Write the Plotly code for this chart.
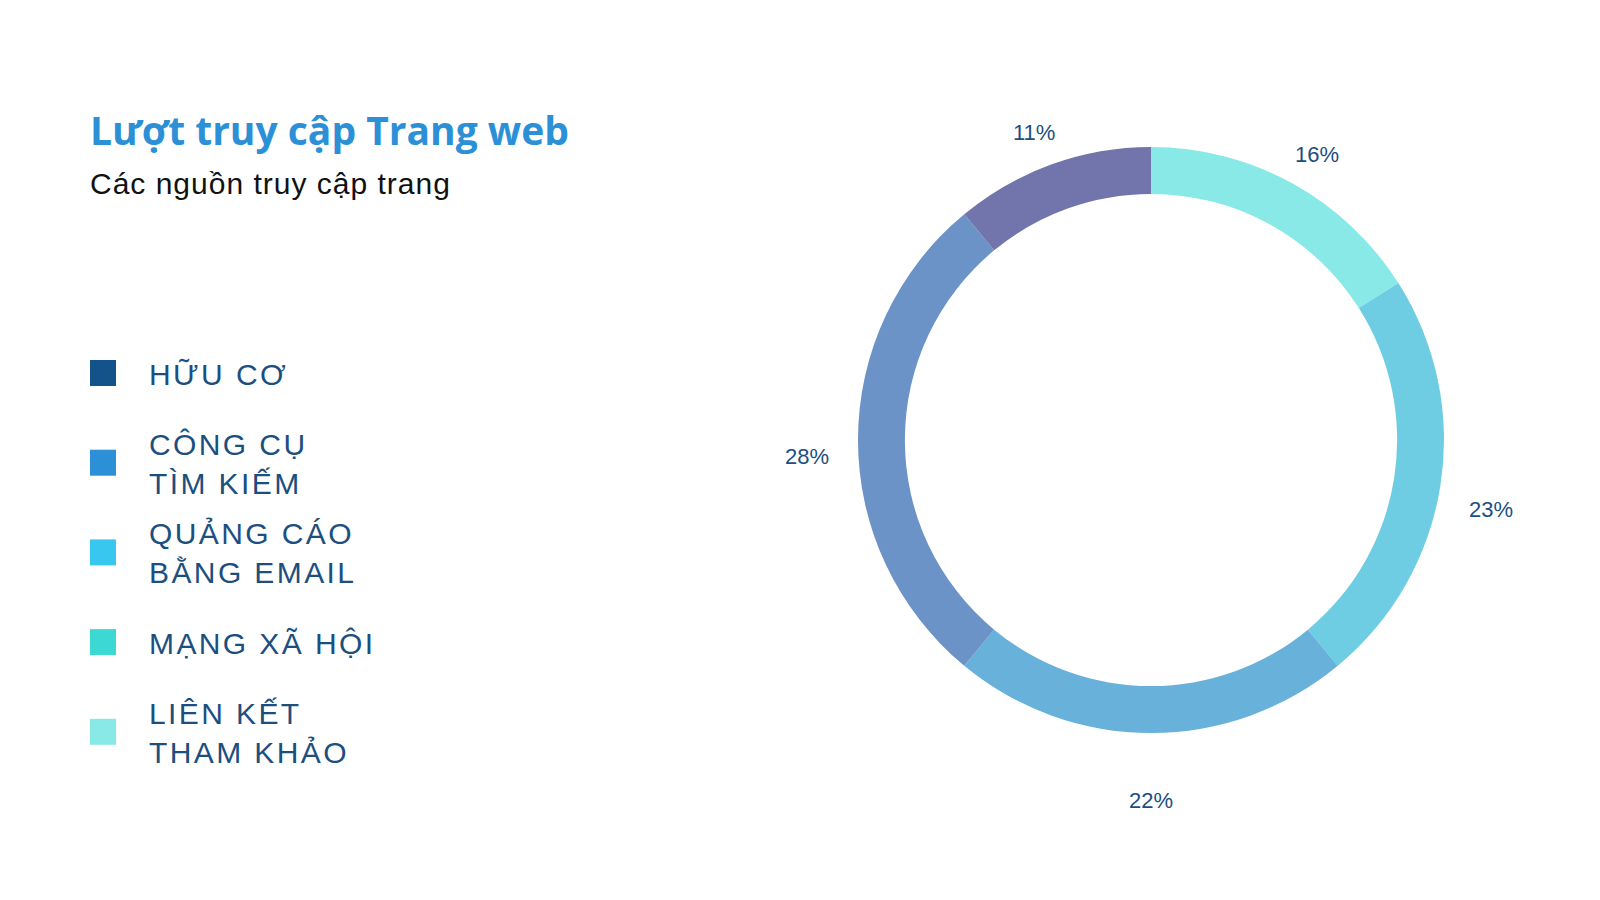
import json
import math

import plotly.graph_objects as go

# Data
sources = ["HỮU CƠ", "CÔNG CỤ<br>TÌM KIẾM", "QUẢNG CÁO<br>BẰNG EMAIL", "MẠNG XÃ HỘI", "LIÊN KẾT<br>THAM KHẢO"]
shares = [11, 28, 22, 23, 16]
legend_colors = ["#14538A", "#2C90D6", "#38C8EF", "#3CD9D4", "#88E9E7"]
slice_colors = ["#7175AC", "#6B93C8", "#68B1DA", "#6FCDE3", "#88E9E7"]

W, H = 1600, 900
TEXT_BLUE = "#1B4F80"


def px(x):
    return x / W


def py(y):
    return 1 - y / H


# donut geometry (pixels)
cx, cy, r_out = 1151, 440, 293

# slices run counterclockwise from 12 o'clock in legend order,
# i.e. clockwise in reversed order
fig = go.Figure()
fig.add_trace(
    go.Pie(
        labels=[s.replace("<br>", " ") for s in sources][::-1],
        values=shares[::-1],
        sort=False,
        direction="clockwise",
        rotation=0,
        hole=0.84,
        marker=dict(colors=slice_colors[::-1], line=dict(width=0)),
        textinfo="none",
        hovertemplate="%{label}: %{percent}<extra></extra>",
        showlegend=False,
        domain=dict(x=[px(cx - r_out), px(cx + r_out)], y=[py(cy + r_out), py(cy - r_out)]),
    )
)

annotations = []
spacing = {}

# Title and subtitle
annotations.append(dict(
    text="<b>Lượt truy cập Trang web</b>", x=px(88), y=py(130), xref="paper", yref="paper",
    xanchor="left", yanchor="middle", showarrow=False, align="left",
    font=dict(family="Open Sans", size=39, color="#2C90D6"),
))
spacing[len(annotations) - 1] = 0
annotations.append(dict(
    text="Các nguồn truy cập trang", x=px(88), y=py(183), xref="paper", yref="paper",
    xanchor="left", yanchor="middle", showarrow=False, align="left",
    font=dict(family="Liberation Sans", size=30, color="#111111"),
))
spacing[len(annotations) - 1] = 1.0

# Custom legend
shapes = []
for i, (name, col) in enumerate(zip(sources, legend_colors)):
    yc = 373 + 89.7 * i
    shapes.append(dict(
        type="rect", xref="paper", yref="paper",
        x0=px(90), x1=px(116), y0=py(yc + 13), y1=py(yc - 13),
        fillcolor=col, line=dict(width=0),
    ))
    annotations.append(dict(
        text=name, x=px(147), y=py(yc + 1), xref="paper", yref="paper",
        xanchor="left", yanchor="middle", showarrow=False, align="left",
        font=dict(family="Liberation Sans", size=30, color=TEXT_BLUE),
    ))
    spacing[len(annotations) - 1] = 2.4

# Percent labels around the donut
total = sum(shares)
cum = 0
r_lab = 344
for v in shares:
    mid = (cum + v / 2) / total * 2 * math.pi
    cum += v
    lx = cx - r_lab * math.sin(mid)
    ly = cy - r_lab * math.cos(mid)
    annotations.append(dict(
        text=f"{round(v / total * 100)}%", x=px(lx), y=py(ly), xref="paper", yref="paper",
        xanchor="center", yanchor="middle", showarrow=False, yshift=-16,
        font=dict(family="Liberation Sans", size=22, color=TEXT_BLUE),
    ))

fig.update_layout(
    width=W,
    height=H,
    margin=dict(l=0, r=0, t=0, b=0),
    paper_bgcolor="white",
    plot_bgcolor="white",
    annotations=annotations,
    shapes=shapes,
)

post = """
document.body.style.margin = '0';
document.body.style.overflow = 'hidden';
var gd = document.getElementById('{plot_id}');
var sp = %s;
function applySpacing() {
  Object.keys(sp).forEach(function (k) {
    var g = gd.querySelector('g.annotation[data-index="' + k + '"] text');
    if (g && sp[k]) { g.style.letterSpacing = sp[k] + 'px'; }
  });
}
applySpacing();
gd.on('plotly_afterplot', applySpacing);
""" % json.dumps(spacing)

fig.write_html("out.html", post_script=post, config={"displayModeBar": False})
